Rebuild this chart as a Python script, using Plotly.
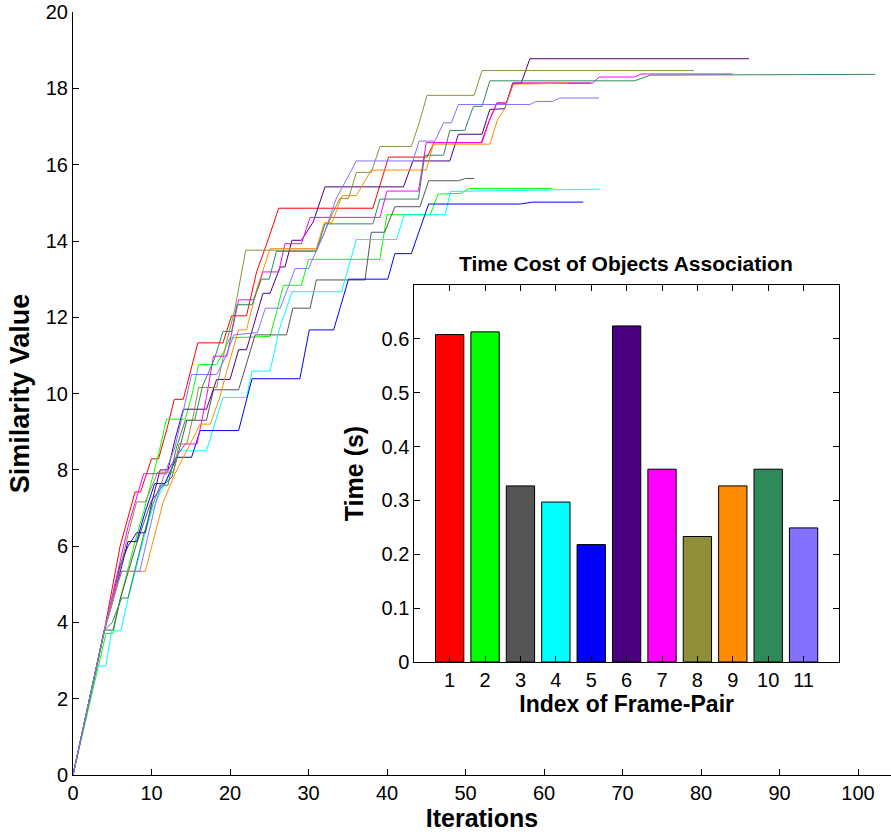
import plotly.graph_objects as go

# ---------------- main chart data: similarity value vs iteration ----------------
s1_x = [0, 4, 5, 6, 7.9, 8.6, 10, 10.9, 12, 12.9, 14.05, 15, 15.9, 19.1, 20.2, 22.1, 23.4, 24.8, 26.2, 38.2, 40.2, 45.1, 46, 52, 53, 54, 55.2, 56.1, 66]
s1_y = [0, 3.8, 4.9, 6.0, 7.42, 7.42, 8.29, 8.29, 9.1, 9.85, 9.85, 10.6, 11.33, 11.33, 12.04, 12.04, 13.2, 14.0, 14.86, 14.86, 16.2, 16.2, 16.58, 16.58, 17.14, 17.62, 17.62, 18.14, 18.14]

s2_x = [0, 4.2, 5.1, 6, 7, 8, 9, 10, 11, 11.9, 14.3, 15.2, 16, 18.3, 19.2, 20, 25.1, 26, 26.8, 29.1, 30, 39.1, 40, 45.5, 46.5, 49.4, 50.5, 61]
s2_y = [0, 3.71, 3.71, 4.6, 5.4, 6.2, 6.9, 7.7, 8.5, 9.33, 9.33, 10.0, 10.76, 10.76, 11.1, 11.46, 11.5, 12.2, 12.84, 12.84, 13.52, 13.52, 14.69, 14.69, 15.23, 15.25, 15.38, 15.38]

s3_x = [0, 4, 5.1, 6, 7, 8, 9, 10, 11.5, 12.6, 13.5, 14.5, 17, 17.9, 21.1, 22.1, 23.2, 27.2, 28, 30.2, 31, 37.2, 38, 39.7, 41, 44.2, 45.3, 49.1, 50, 51.1]
s3_y = [0, 3.8, 3.8, 4.6, 5.3, 6.0, 6.6, 7.2, 7.6, 7.81, 8.5, 9.3, 9.3, 10.1, 10.1, 10.8, 11.54, 11.54, 12.24, 12.24, 12.98, 12.98, 14.23, 14.23, 14.9, 14.9, 15.58, 15.58, 15.64, 15.64]

s4_x = [0, 3.1, 4.2, 4.9, 6.1, 7, 8, 9, 10, 11.1, 12.1, 13.6, 17, 18, 19.1, 22.1, 22.8, 25.1, 26.3, 27.9, 34.2, 36.1, 41.2, 42.2, 47.4, 48.1, 67.1]
s4_y = [0, 2.86, 2.86, 3.78, 3.78, 4.6, 5.4, 6.2, 6.9, 7.4, 7.8, 8.5, 8.5, 9.2, 9.9, 9.9, 10.59, 10.59, 11.7, 12.67, 12.67, 14.04, 14.04, 14.69, 14.69, 15.3, 15.36]

s5_x = [0, 4, 5, 6, 7, 8.1, 9.2, 10.4, 11.7, 13.2, 15.1, 16.2, 21.1, 22.8, 28.9, 30.1, 33.2, 35.1, 40.1, 41, 43.1, 45.3, 57, 58.5, 65]
s5_y = [0, 3.8, 4.5, 5.3, 6.12, 6.12, 6.9, 7.64, 7.64, 8.33, 8.33, 9.03, 9.03, 10.39, 10.39, 11.67, 11.67, 13.0, 13.0, 13.67, 13.67, 14.97, 14.97, 15.02, 15.02]

s6_x = [0, 4, 5, 6, 7, 8.1, 9.2, 10.1, 11.1, 12.1, 13, 14.05, 17, 18.3, 20, 21.1, 22.1, 23.2, 24.2, 25.1, 26.4, 27, 27.9, 29.1, 30.6, 32.1, 42.1, 43.3, 48, 49.1, 52.1, 53.1, 55, 56, 57.1, 58.2, 86.1]
s6_y = [0, 3.8, 4.6, 5.5, 6.0, 6.35, 6.35, 7.2, 8.0, 8.0, 8.8, 9.59, 9.59, 10.37, 10.37, 11.15, 11.15, 11.9, 12.63, 12.63, 13.32, 13.32, 14.02, 14.02, 14.5, 15.42, 15.42, 16.1, 16.1, 16.8, 16.8, 17.45, 17.47, 18.14, 18.14, 18.78, 18.78]

s7_x = [0, 4, 5, 6, 7, 8, 9, 11.9, 13, 14.3, 15.8, 17, 17.9, 19.6, 21.1, 23, 24.2, 26.2, 27, 29.1, 30.2, 39.1, 40, 44, 45, 52.1, 53, 54, 55.2, 56.1, 66.2, 67, 71.5, 72.4, 84]
s7_y = [0, 3.8, 4.7, 5.6, 6.5, 7.2, 7.9, 7.9, 8.3, 8.68, 8.68, 9.9, 10.98, 10.98, 12.46, 12.46, 13.19, 13.19, 13.93, 13.93, 14.62, 14.62, 15.31, 15.31, 16.58, 16.58, 17.14, 17.62, 17.62, 18.14, 18.14, 18.3, 18.3, 18.38, 18.38]

s8_x = [0, 4, 5, 6, 7, 8.1, 9.2, 10.8, 12.8, 13.5, 14.5, 15.3, 16, 18.3, 19.5, 20.6, 22, 31, 32, 33, 34, 35.1, 36.1, 38, 39.1, 43.1, 44.1, 45.1, 51.1, 52.1, 79.1]
s8_y = [0, 3.8, 4.6, 5.4, 6.3, 7.16, 7.16, 7.94, 7.94, 8.68, 8.68, 9.4, 10.16, 10.16, 11.3, 12.2, 13.76, 13.76, 14.2, 14.7, 15.12, 15.12, 15.8, 15.8, 16.48, 16.48, 17.1, 17.82, 17.82, 18.47, 18.47]

s9_x = [0, 4, 5, 6.2, 9.2, 10.4, 11.5, 13, 14.5, 16.2, 17.5, 18.7, 19.6, 21.1, 22.1, 23.5, 25.1, 31, 32, 33, 34.3, 36.1, 38, 45, 45.9, 53.1, 54.1, 55, 56.1, 63]
s9_y = [0, 3.8, 4.5, 5.34, 5.34, 6.3, 7.16, 7.9, 8.5, 9.2, 9.2, 9.9, 10.6, 11.67, 11.67, 12.8, 13.8, 13.8, 14.48, 14.48, 15.19, 15.19, 15.86, 15.86, 16.54, 16.54, 17.19, 17.47, 18.11, 18.14]

s10_x = [0, 4, 5, 6.2, 7, 8, 9, 10, 11.1, 12.1, 13.2, 14.3, 15.5, 16.5, 18, 19.1, 20.2, 20.9, 22.8, 24, 25, 25.9, 31, 32.1, 38.2, 39.1, 44, 44.8, 47.2, 48, 49.9, 51, 52.1, 53.1, 71.5, 73.6, 102.2]
s10_y = [0, 3.8, 4.0, 4.64, 4.64, 5.5, 6.3, 7.0, 7.6, 7.6, 8.6, 9.3, 9.3, 10.2, 10.9, 11.63, 11.63, 12.33, 12.33, 13.0, 13.0, 13.73, 13.73, 14.45, 14.45, 15.1, 15.1, 16.25, 16.25, 16.9, 16.9, 17.53, 17.53, 18.2, 18.2, 18.35, 18.37]

s11_x = [0, 4, 5, 6.2, 8.5, 9.5, 10.5, 11.5, 13, 14, 15.1, 18.3, 19.3, 20.5, 23.5, 24.5, 26.4, 28.3, 30, 31, 32, 33.5, 35.1, 36.1, 43.3, 44.1, 46.1, 47.2, 48.2, 49.1, 58.2, 59, 61.1, 62, 67]
s11_y = [0, 3.8, 4.6, 5.34, 5.34, 6.2, 7.1, 7.8, 8.6, 9.5, 10.5, 10.5, 10.9, 11.54, 11.6, 12.24, 12.24, 13.28, 13.28, 13.75, 14.2, 15.1, 15.7, 16.1, 16.1, 16.62, 16.62, 17.1, 17.1, 17.58, 17.58, 17.66, 17.66, 17.75, 17.75]

series_x = [s1_x, s2_x, s3_x, s4_x, s5_x, s6_x, s7_x, s8_x, s9_x, s10_x, s11_x]
series_y = [s1_y, s2_y, s3_y, s4_y, s5_y, s6_y, s7_y, s8_y, s9_y, s10_y, s11_y]

colors = ["#FF0000", "#00FF00", "#555555", "#00FFFF", "#0000FF", "#4B0082",
          "#FF00FF", "#8F8F3A", "#FF8C00", "#2E8B57", "#8470FF"]

# ---------------- inset data: time cost per frame pair ----------------
pair_index = [1, 2, 3, 4, 5, 6, 7, 8, 9, 10, 11]
time_cost = [0.608, 0.613, 0.327, 0.297, 0.218, 0.624, 0.358, 0.233, 0.327, 0.358, 0.249]

main_xticks = [0, 10, 20, 30, 40, 50, 60, 70, 80, 90, 100]
main_yticks = [0, 2, 4, 6, 8, 10, 12, 14, 16, 18, 20]
inset_yticks = [0, 0.1, 0.2, 0.3, 0.4, 0.5, 0.6]
inset_ylabels = ["0", "0.1", "0.2", "0.3", "0.4", "0.5", "0.6"]

FONT = "Liberation Sans, Arial, Helvetica, sans-serif"

fig = go.Figure()
for xs, ys, c in zip(series_x, series_y, colors):
    fig.add_trace(go.Scatter(x=xs, y=ys, mode="lines", line=dict(color=c, width=1),
                             xaxis="x", yaxis="y", showlegend=False, hoverinfo="skip",
                             cliponaxis=False))

fig.add_trace(go.Bar(x=pair_index, y=time_cost, width=0.8,
                     marker=dict(color=colors, line=dict(color="#000000", width=1)),
                     xaxis="x2", yaxis="y2", showlegend=False))

axis_common = dict(showline=True, linecolor="black", linewidth=1, ticks="inside",
                   ticklen=6, tickcolor="black", showgrid=False, zeroline=False,
                   automargin=False, ticklabeloverflow="allow",
                   tickfont=dict(family=FONT, size=20, color="black"))

fig.update_layout(
    template="none",
    width=891, height=838,
    margin=dict(l=73, r=0, t=12, b=63, autoexpand=False),
    paper_bgcolor="white", plot_bgcolor="white",
    font=dict(family=FONT, color="black"),
    xaxis=dict(range=[0, 104.2], tickvals=main_xticks, domain=[0, 1], anchor="y",
               title=dict(text="<b>Iterations</b>", font=dict(size=25, family=FONT), standoff=2),
               **axis_common),
    yaxis=dict(range=[0, 20.005], tickvals=main_yticks, domain=[0, 1], anchor="x",
               title=dict(text="<b>Similarity Value</b>", font=dict(size=27, family=FONT), standoff=8),
               **axis_common),
    xaxis2=dict(range=[0, 12], tickvals=pair_index, domain=[0.4172, 0.9364], anchor="y2",
                mirror="ticks",
                title=dict(text="<b>Index of Frame-Pair</b>", font=dict(size=23, family=FONT), standoff=2),
                **axis_common),
    yaxis2=dict(range=[0, 0.7], tickvals=inset_yticks, ticktext=inset_ylabels,
                domain=[0.1481, 0.6422], anchor="x2", mirror="ticks",
                title=dict(text="<b>Time (s)</b>", font=dict(size=25, family=FONT), standoff=10),
                **axis_common),
    annotations=[dict(text="<b>Time Cost of Objects Association</b>", x=0.6760, y=0.671,
                      xref="paper", yref="paper", showarrow=False, xanchor="center",
                      yanchor="middle", font=dict(size=21, family=FONT, color="black"))],
)

fig.write_html("out.html", config={"displayModeBar": False},
               post_script="document.body.style.margin='0px';document.body.style.padding='0px';")
